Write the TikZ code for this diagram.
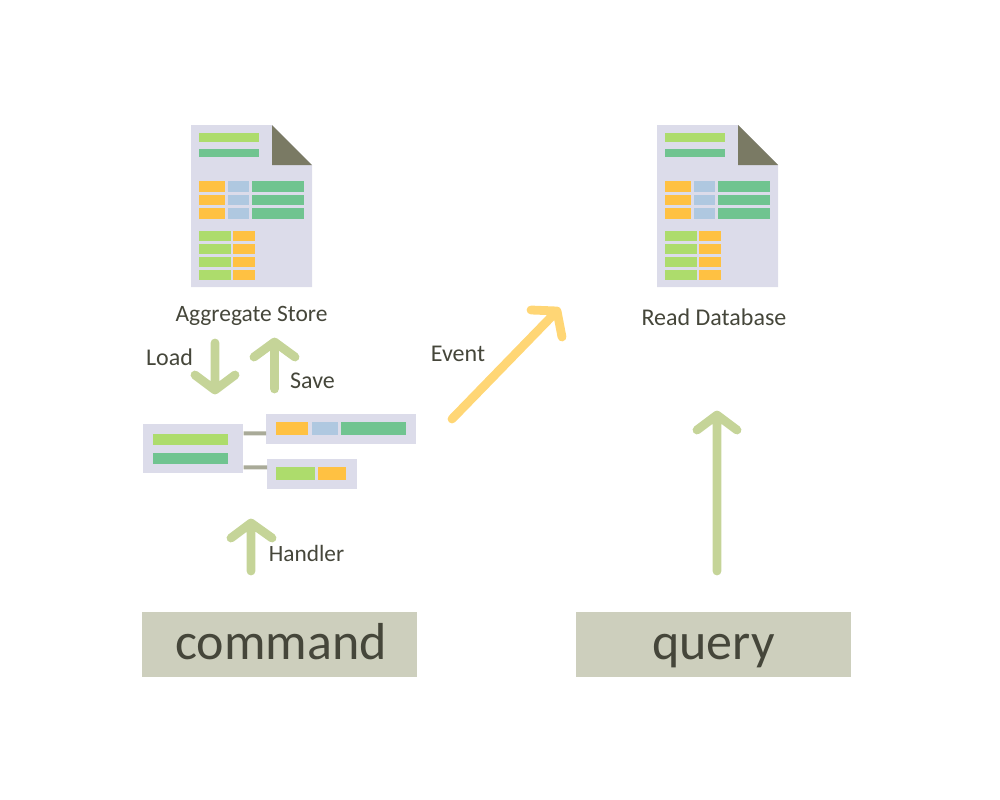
\documentclass[tikz,border=0pt]{standalone}
\usepackage{fontspec}
\setmainfont{Carlito}
\definecolor{docbg}{HTML}{DCDCEA}
\definecolor{lgreen}{HTML}{ADDC6C}
\definecolor{dgreen}{HTML}{70C490}
\definecolor{orng}{HTML}{FFC142}
\definecolor{lblue}{HTML}{AFC8E0}
\definecolor{fold}{HTML}{7A7A64}
\definecolor{arrgreen}{HTML}{C5D498}
\definecolor{arrorange}{HTML}{FFD675}
\definecolor{conn}{HTML}{A9AA98}
\definecolor{banner}{HTML}{CDCFBD}
\definecolor{ink}{HTML}{45463A}
\newcommand{\rct}[5]{\fill[#5] (#1,#2) rectangle (#3,#4);}
\newcommand{\docicon}[1]{%
 \begin{scope}[shift={(#1,0)}]
  \fill[docbg] (191,125) -- (272,125) -- (312,165) -- (312,287) -- (191,287) -- cycle;
  \fill[fold] (272,125) -- (312,165) -- (272,165) -- cycle;
  \rct{199}{133}{259}{142}{lgreen}
  \rct{199}{149}{259}{157}{dgreen}
  \foreach \a/\b in {181/192,195/205,208/219}{
   \rct{199}{\a}{225}{\b}{orng}
   \rct{228}{\a}{249}{\b}{lblue}
   \rct{252}{\a}{304}{\b}{dgreen}
  }
  \foreach \a/\b in {231/241,244/254,257/267,270/280}{
   \rct{199}{\a}{231}{\b}{lgreen}
   \rct{233}{\a}{255}{\b}{orng}
  }
 \end{scope}}
\tikzset{
 px/.style={x=0.75pt,y=-0.75pt},
 panel/.style={fill=docbg,inner sep=0pt,anchor=north west},
 bannerbox/.style={fill=banner,inner sep=0pt,minimum width=206.25pt,minimum height=48.75pt,text=ink,text height=32.6pt,text depth=10pt,font=\fontsize{39}{39}\selectfont},
 lab/.style={text=ink,font=\fontsize{18}{20}\selectfont,inner sep=0pt,anchor=base},
 linkline/.style={conn,line width=3pt},
 flow/.style={line width=6.6pt,line cap=round,line join=round},
}
\begin{document}
\begin{tikzpicture}[px]
\useasboundingbox (0,0) rectangle (1000,800);
\docicon{0}
\docicon{466}
% panels
\node[panel,minimum width=75pt,minimum height=36.75pt] (A) at (143,424) {};
\node[panel,minimum width=112.5pt,minimum height=22.5pt] (B) at (266,414) {};
\node[panel,minimum width=67.5pt,minimum height=22.5pt] (C) at (267,459) {};
\rct{153}{434}{228}{445}{lgreen}
\rct{153}{453}{228}{464}{dgreen}
\rct{276}{422}{308}{435}{orng}
\rct{312}{422}{338}{435}{lblue}
\rct{341}{422}{406}{435}{dgreen}
\rct{276}{467}{315}{480}{lgreen}
\rct{318}{467}{346}{480}{orng}
\draw[linkline] ([yshift=11.6pt]A.east) -- ([yshift=-3pt]B.west);
\draw[linkline] ([yshift=-13.9pt]A.east) -- ([yshift=5.25pt]C.west);
% banners
\node[bannerbox] (cmd) at (279.5,644.5) {\hspace*{2pt}command};
\node[bannerbox] (qry) at (713.5,644.5) {query};
% labels
\node[lab,font=\fontsize{17.6}{20}\selectfont] (store) at (251.5,321) {Aggregate Store};
\node[lab] (read) at (714,325.3) {Read Database};
\node[lab] (load) at (169.5,365.3) {Load};
\node[lab] (save) at (312.5,388) {Save};
\node[lab] (event) at (458,361) {Event};
\node[lab,font=\fontsize{17.5}{20}\selectfont] (handler) at (306.5,561.3) {Handler};
% arrows
\coordinate (la) at (215,343); \coordinate (lb) at (215,390);
\draw[flow,arrgreen] (la) -- (lb) (195,375) -- (lb) -- (235,375);
\coordinate (sa) at (274.5,389); \coordinate (sb) at (274.5,342);
\draw[flow,arrgreen] (sa) -- (sb) (254,357) -- (sb) -- (295,357);
\coordinate (ha) at (251,571); \coordinate (hb) at (251,523);
\draw[flow,arrgreen] (ha) -- (hb) (231,538) -- (hb) -- (272,538);
\coordinate (qa) at (717,571); \coordinate (qb) at (717,415);
\draw[flow,arrgreen] (qa) -- (qb) (697,430) -- (qb) -- (737,430);
\coordinate (ea) at (452,419); \coordinate (eb) at (557,311);
\draw[flow,arrorange] (ea) -- (eb) (531,310) -- (eb) -- (562,337);
\end{tikzpicture}
\end{document}
